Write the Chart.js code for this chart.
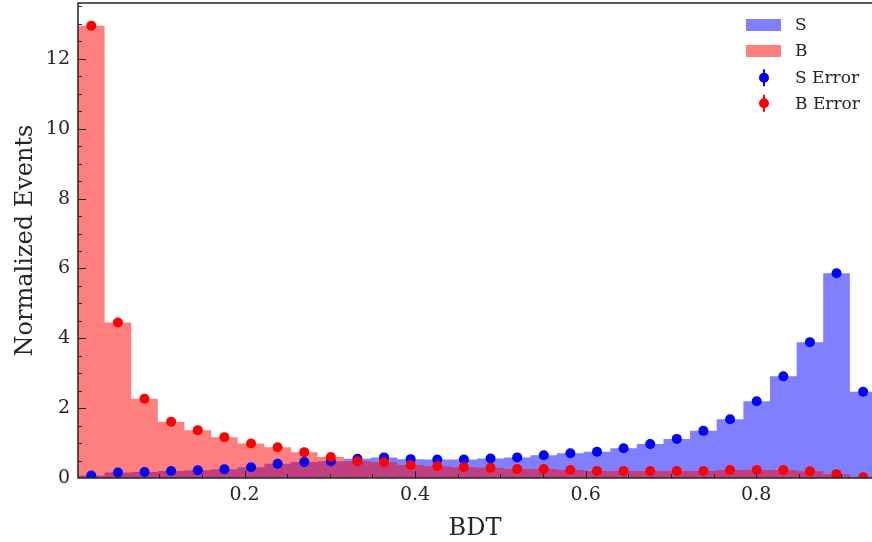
<!DOCTYPE html>
<html>
<head>
<meta charset="utf-8">
<script src="https://cdn.jsdelivr.net/npm/chart.js@4.4.1/dist/chart.umd.min.js"></script>
<style>
    html, body { margin: 0; padding: 0; background: #fff; }
    #wrap { width: 872px; height: 542px; }
</style>
</head>
<body>
<div id="wrap"><canvas id="grafica" width="872" height="542"></canvas></div>
<script>
// --- DATOS ---
const binEdges = [0.0047, 0.0359, 0.0671, 0.0983, 0.1295, 0.1608, 0.1920, 0.2232, 0.2544, 0.2856,
    0.3168, 0.3480, 0.3792, 0.4104, 0.4416, 0.4729, 0.5041, 0.5353, 0.5665, 0.5977,
    0.6289, 0.6601, 0.6913, 0.7225, 0.7537, 0.7850, 0.8162, 0.8474, 0.8786, 0.9098, 0.9410];

const sValues = [0.07, 0.16, 0.17, 0.20, 0.22, 0.25, 0.31, 0.41, 0.46, 0.48,
    0.55, 0.59, 0.54, 0.53, 0.53, 0.56, 0.59, 0.65, 0.71, 0.75,
    0.85, 0.97, 1.12, 1.35, 1.68, 2.20, 2.91, 3.89, 5.86, 2.47];

const bValues = [12.95, 4.45, 2.27, 1.61, 1.37, 1.17, 0.99, 0.88, 0.74, 0.60,
    0.48, 0.45, 0.37, 0.34, 0.31, 0.29, 0.26, 0.26, 0.23, 0.20,
    0.20, 0.20, 0.20, 0.20, 0.23, 0.23, 0.23, 0.19, 0.11, 0.02];

const xTickVals = [0.2, 0.4, 0.6, 0.8];
const yTickVals = [0, 2, 4, 6, 8, 10, 12];
const legendLabels = ['S', 'B', 'S Error', 'B Error'];

const FONT = "'DejaVu Serif', serif";
const TXT = '#262626';

// histograma tipo "stepfilled": el último borde repite el último valor
const stepData = vals => binEdges.map((e, i) => ({ x: e, y: vals[Math.min(i, vals.length - 1)] }));
// puntos en el centro de cada bin
const centerData = vals => vals.map((v, i) => ({ x: (binEdges[i] + binEdges[i + 1]) / 2, y: v }));

// --- PLUGIN: marco, ticks internos, títulos y leyenda estilo matplotlib ---
const mplStyle = {
    id: 'mplStyle',
    afterDraw(chart) {
        const { ctx, chartArea: a, scales: { x, y } } = chart;
        ctx.save();
        ctx.strokeStyle = TXT;

        // ticks hacia dentro
        ctx.lineWidth = 1;
        ctx.beginPath();
        for (let v = 0.05; v < x.max; v += 0.05) {
            const px = Math.round(x.getPixelForValue(v)) + 0.5;
            const major = xTickVals.some(t => Math.abs(t - v) < 1e-6);
            ctx.moveTo(px, a.bottom);
            ctx.lineTo(px, a.bottom - (major ? 7 : 4));
        }
        for (let v = 0.5; v < y.max; v += 0.5) {
            const py = Math.round(y.getPixelForValue(v)) + 0.5;
            const major = yTickVals.includes(v);
            ctx.moveTo(a.left, py);
            ctx.lineTo(a.left + (major ? 8 : 4), py);
        }
        ctx.stroke();

        // marco (el borde derecho queda fuera, como en la figura recortada)
        ctx.lineWidth = 1.5;
        ctx.strokeRect(a.left, a.top, a.right - a.left + 4, a.bottom - a.top);

        // títulos de ejes
        ctx.fillStyle = TXT;
        ctx.font = `24px ${FONT}`;
        ctx.textAlign = 'center';
        ctx.textBaseline = 'alphabetic';
        ctx.fillText('BDT', (a.left + a.right) / 2, 535);
        ctx.save();
        ctx.translate(32, (a.top + a.bottom) / 2);
        ctx.rotate(-Math.PI / 2);
        ctx.fillText('Normalized Events', 0, 0);
        ctx.restore();

        // leyenda
        const rows = [25, 51, 77.7, 103.3];
        ctx.font = `17px ${FONT}`;
        ctx.textAlign = 'left';
        ctx.textBaseline = 'middle';
        chart.data.datasets.forEach(ds => {
            const i = legendLabels.indexOf(ds.label);
            const cy = rows[i];
            if (ds.fill) {
                ctx.fillStyle = ds.backgroundColor;
                ctx.fillRect(746, cy - 6, 35, 12);
            } else {
                ctx.strokeStyle = ds.pointBackgroundColor;
                ctx.lineWidth = 2;
                ctx.beginPath();
                ctx.moveTo(764, cy - 8.5);
                ctx.lineTo(764, cy + 8.5);
                ctx.stroke();
                ctx.fillStyle = ds.pointBackgroundColor;
                ctx.beginPath();
                ctx.arc(764, cy, 5, 0, Math.PI * 2);
                ctx.fill();
            }
            ctx.fillStyle = TXT;
            ctx.fillText(ds.label, 795, cy + 1);
        });
        ctx.restore();
    }
};

const tickFont = { family: FONT, size: 19 };

new Chart(document.getElementById('grafica'), {
    type: 'line',
    data: {
        datasets: [
            { label: 'S', data: stepData(sValues), stepped: 'before', fill: 'origin',
              backgroundColor: 'rgba(0,0,255,0.5)', borderWidth: 0, pointRadius: 0, order: 3 },
            { label: 'B', data: stepData(bValues), stepped: 'before', fill: 'origin',
              backgroundColor: 'rgba(255,0,0,0.5)', borderWidth: 0, pointRadius: 0, order: 2 },
            { label: 'S Error', data: centerData(sValues), showLine: false, fill: false,
              pointRadius: 5, pointBorderWidth: 0, pointBackgroundColor: '#0000ff', order: 1 },
            { label: 'B Error', data: centerData(bValues), showLine: false, fill: false,
              pointRadius: 5, pointBorderWidth: 0, pointBackgroundColor: '#ff0000', order: 0 }
        ]
    },
    options: {
        responsive: false,
        animation: false,
        layout: { autoPadding: false, padding: { top: 3, right: 0, bottom: 0, left: 0 } },
        plugins: { legend: { display: false }, tooltip: { enabled: false } },
        scales: {
            x: {
                type: 'linear', min: 0.0047, max: 0.9358,
                grid: { display: false, drawTicks: false }, border: { display: false },
                afterFit: s => { s.height = 64; s.paddingLeft = 0; s.paddingRight = 0; },
                afterBuildTicks: s => { s.ticks = xTickVals.map(v => ({ value: v })); },
                ticks: { font: tickFont, color: TXT, padding: 6, maxRotation: 0, autoSkip: false,
                         callback: v => v.toFixed(1) }
            },
            y: {
                type: 'linear', min: 0, max: 13.6,
                grid: { display: false, drawTicks: false }, border: { display: false },
                afterFit: s => { s.width = 78; s.paddingTop = 0; s.paddingBottom = 0; },
                afterBuildTicks: s => { s.ticks = yTickVals.map(v => ({ value: v })); },
                ticks: { font: tickFont, color: TXT, padding: 8, autoSkip: false,
                         callback: v => String(v) }
            }
        }
    },
    plugins: [mplStyle]
});
</script>
</body>
</html>
